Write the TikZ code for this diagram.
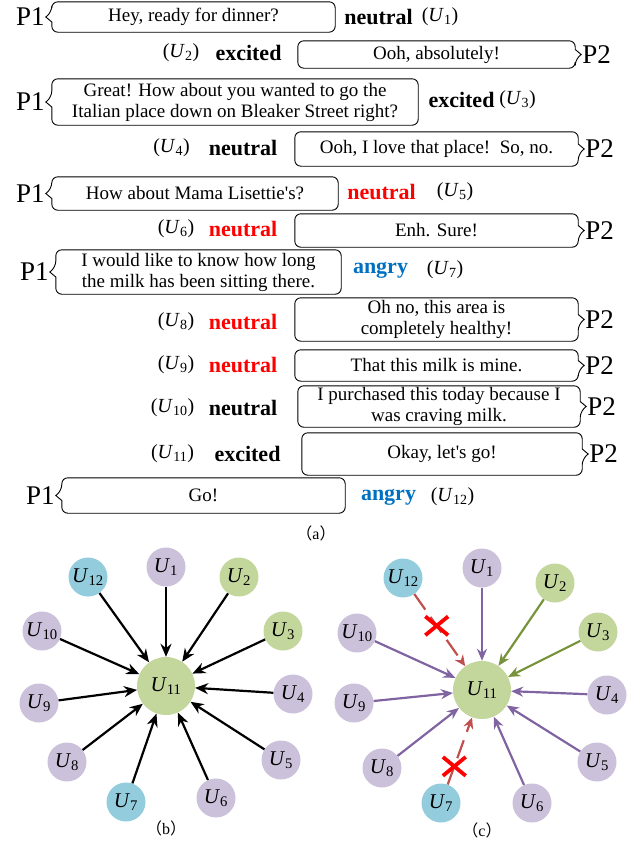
\documentclass[tikz,border=0pt]{standalone}
\usepackage{fontspec}
\setmainfont{Liberation Serif}
\newfontfamily\cjk{Noto Sans CJK SC}
\usetikzlibrary{arrows.meta,positioning,shapes.misc}

\definecolor{lilac}{HTML}{CCC1DA}
\definecolor{sage}{HTML}{C3D69B}
\definecolor{teal}{HTML}{93CDDD}
\definecolor{purpline}{HTML}{8064A2}
\definecolor{greenline}{HTML}{77933C}
\definecolor{redline}{HTML}{C0504D}
\definecolor{angryblue}{HTML}{0070C0}

\newcommand{\uu}[1]{\textit{U}\textsubscript{#1}}
% speech bubbles, pointer on the left (P1) or on the right (P2)
\newcommand{\leftbub}[1]{%
  \draw[bub] ([yshift=-5pt]#1.west) [rounded corners=6pt] -- (#1.south west) -- (#1.south east)
    -- (#1.north east) -- (#1.north west) -- ([yshift=5pt]#1.west) [sharp corners]
    -- ([xshift=-6pt]#1.west) -- cycle;}
\newcommand{\rightbub}[1]{%
  \draw[bub] ([yshift=5pt]#1.east) [rounded corners=6pt] -- (#1.north east) -- (#1.north west)
    -- (#1.south west) -- (#1.south east) -- ([yshift=-5pt]#1.east) [sharp corners]
    -- ([xshift=6pt]#1.east) -- cycle;}

\tikzset{
  say/.style={inner sep=0pt,align=center,font=\fontsize{19}{21}\selectfont},
  bub/.style={draw=black,line width=0.9pt},
  who/.style={inner sep=0pt,font=\fontsize{27}{30}\selectfont},
  emo/.style={inner sep=0pt,font=\fontsize{22}{24}\selectfont\bfseries},
  utt/.style={inner sep=0pt,font=\fontsize{20}{24}\selectfont},
  captext/.style={font=\fontsize{16}{18}\selectfont},
  gnode/.style={circle,inner sep=0pt,minimum size=39pt,font=\fontsize{21}{24}\selectfont},
  hub/.style={gnode,fill=sage,minimum size=58pt},
  barrow/.style={line width=2.2pt,-{Stealth[length=13pt,width=11pt]}},
  carrow/.style={line width=2.2pt,-{Stealth[length=12pt,width=10pt]}},
  cutline/.style={line width=2.2pt,redline,dash pattern=on 19pt off 9pt,-{Stealth[length=11pt,width=10pt]}},
  xmark/.style={cross out,draw=red,line width=3.8pt,minimum width=19pt,minimum height=15pt,inner sep=0pt,solid}
}

\begin{document}
\begin{tikzpicture}[x=1pt,y=-1pt]
\useasboundingbox (0,0) rectangle (637,846);
% (a) the dialogue
\node[say,minimum width=283pt,minimum height=30pt] (s1) at (193.5,17) {Hey, ready for dinner?};
\node[say,minimum width=277pt,minimum height=27pt] (s2) at (436.5,54.5) {Ooh, absolutely!};
\node[say,minimum width=366pt,minimum height=46pt] (s3) at (235,102) {Great! How about you wanted to go the\\Italian place down on Bleaker Street right?};
\node[say,minimum width=283pt,minimum height=34pt] (s4) at (436.5,149) {Ooh, I love that place!\ \ So, no.};
\node[say,minimum width=286pt,minimum height=33pt] (s5) at (195,193.5) {How about Mama Lisettie\textquotesingle s?};
\node[say,minimum width=283pt,minimum height=33pt] (s6) at (436.5,230.5) {Enh. Sure!};
\node[say,minimum width=285pt,minimum height=44pt] (s7) at (198.5,272) {I would like to know how long\\the milk has been sitting there.};
\node[say,minimum width=283pt,minimum height=43pt] (s8) at (436.5,319.5) {Oh no, this area is\\completely healthy!};
\node[say,minimum width=283pt,minimum height=31pt] (s9) at (436.5,365.5) {That this milk is mine.};
\node[say,minimum width=282pt,minimum height=41pt] (s10) at (439,406.5) {I purchased this today because I\\was craving milk.};
\node[say,minimum width=280pt,minimum height=42pt] (s11) at (442,454) {Okay, let\textquotesingle s go!};
\node[say,minimum width=283pt,minimum height=35pt] (s12) at (203.5,495.5) {Go!};
\foreach \s in {s1,s3,s5,s7,s12}
  \leftbub{\s};
\foreach \s in {s2,s4,s6,s8,s9,s10,s11}
  \rightbub{\s};
% speakers
\foreach \s in {s1,s3,s5,s7,s12}
  \node[who,left=7pt of \s] (w\s) {P1};
\foreach \s in {s2,s4,s6,s8,s9,s10,s11}
  \node[who,right=7pt of \s] (w\s) {P2};
% emotions and utterance labels
\node[emo] (e1) at (378.5,17) {neutral};
\node[utt] (l1) at (440,17) {(\uu{1})};
\node[emo] (e2) at (248.5,53) {excited};
\node[utt] (l2) at (181,53) {(\uu{2})};
\node[emo] (e3) at (461.5,100) {excited};
\node[utt] (l3) at (517.5,100) {(\uu{3})};
\node[emo] (e4) at (243,148) {neutral};
\node[utt] (l4) at (171.5,148) {(\uu{4})};
\node[emo,red] (e5) at (381.5,192) {neutral};
\node[utt] (l5) at (455,192) {(\uu{5})};
\node[emo,red] (e6) at (243,229) {neutral};
\node[utt] (l6) at (176,229) {(\uu{6})};
\node[emo,angryblue] (e7) at (380.5,270) {angry};
\node[utt] (l7) at (445,270) {(\uu{7})};
\node[emo,red] (e8) at (243,322) {neutral};
\node[utt] (l8) at (176,322) {(\uu{8})};
\node[emo,red] (e9) at (243,365) {neutral};
\node[utt] (l9) at (176,365) {(\uu{9})};
\node[emo] (e10) at (243,408) {neutral};
\node[utt] (l10) at (172.5,408) {(\uu{10})};
\node[emo] (e11) at (247.5,454) {excited};
\node[utt] (l11) at (172.5,454) {(\uu{11})};
\node[emo,angryblue] (e12) at (388.5,497) {angry};
\node[utt] (l12) at (452.5,497) {(\uu{12})};
\node[captext] (capa) at (316,533) {{\cjk （}a{\cjk ）}};
% (b) all utterances point to U11
\node[hub] (bU11) at (166,686) {\uu{11}};
\foreach \n/\x/\y/\c in {1/166/567/lilac,2/239/577/sage,3/283/631/sage,4/293/694/lilac,
    5/281/760/lilac,6/216/798/lilac,7/126/802/teal,8/67/762/lilac,9/39/703/lilac,
    10/42/631/lilac,12/88/577/teal}
  \node[gnode,fill=\c] (bU\n) at (\x,\y) {\uu{\n}};
\foreach \n in {1,...,10,12}
  \draw[barrow] (bU\n) -- (bU11);
\node[captext] (capb) at (166,828) {{\cjk （}b{\cjk ）}};
% (c) the angry ones are cut
\node[hub] (cU11) at (482,690) {\uu{11}};
\foreach \n/\x/\y/\c in {1/482/568/lilac,2/555/583/sage,3/598/632/sage,4/607/695/lilac,
    5/597/762/lilac,6/532/803/lilac,7/441/803/teal,8/382/768/lilac,9/354/703/lilac,
    10/357/633/lilac,12/403/578/teal}
  \node[gnode,fill=\c] (cU\n) at (\x,\y) {\uu{\n}};
\foreach \n in {1,4,5,6,8,9,10}
  \draw[carrow,purpline] (cU\n) -- (cU11);
\foreach \n in {2,3}
  \draw[carrow,greenline] (cU\n) -- (cU11);
\draw[cutline] (cU12) -- (cU11) node[xmark,pos=0.44] (x12) {};
\draw[cutline] (cU7) -- (cU11) node[xmark,pos=0.27] (x7) {};
\node[captext] (capc) at (482,830) {{\cjk （}c{\cjk ）}};
\end{tikzpicture}
\end{document}
